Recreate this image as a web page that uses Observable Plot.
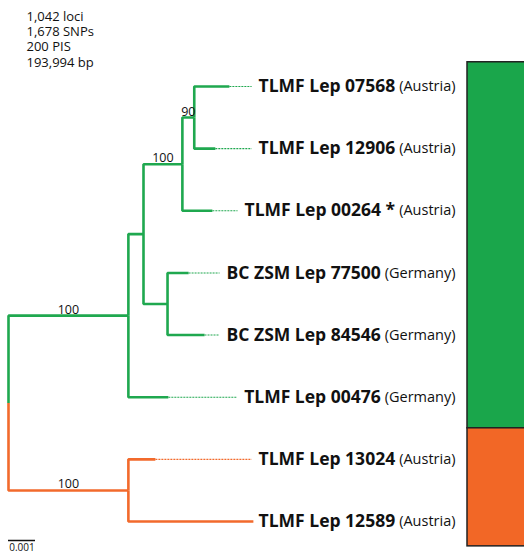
<!DOCTYPE html>
<html><head><meta charset="utf-8">
<script src="https://cdn.jsdelivr.net/npm/d3@7"></script>
<script src="https://cdn.jsdelivr.net/npm/@observablehq/plot@0.6"></script>
<style>body{margin:0;background:#fff} svg{display:block}</style>
</head><body><div id="chart"></div>
<script>
// ---- data ----
const stats = ["1,042 loci", "1,678 SNPs", "200 PIS", "193,994 bp"];
const tipIds = ["t0", "t1", "t2", "t3", "t4", "t5", "t6", "t7"];
const tipNames = ["TLMF Lep 07568", "TLMF Lep 12906", "TLMF Lep 00264 *", "BC ZSM Lep 77500", "BC ZSM Lep 84546", "TLMF Lep 00476", "TLMF Lep 13024", "TLMF Lep 12589"];
const tipCountries = ["Austria", "Austria", "Austria", "Germany", "Germany", "Germany", "Austria", "Austria"];
const edgeParent = ["root", "root", "G", "A", "B", "C", "C", "B", "A", "D", "D", "G", "O", "O"];
const edgeChild  = ["G", "O", "A", "B", "C", "t0", "t1", "t2", "D", "t3", "t4", "t5", "t6", "t7"];
const edgeLength = [0.00444, 0.00444, 0.00056, 0.00144, 0.00044, 0.0013, 0.00078, 0.00111, 0.00089, 0.00078, 0.00137, 0.00148, 0.001, 0.00463];
const supportNodes = ["G", "O", "B", "C"];
const supportValues = [100, 100, 100, 90];
const cladeIds = ["G", "O"];
const scaleBarLength = 0.001;

// ---- styles / layout ----
const cladeColors = ["#1fa84f", "#f26a2c"];
const barColors = ["#1aa64b", "#f26726"];
const W = 524, H = 554;
const FONT = "Open Sans";
const nameSize = 17.5, countrySize = 14.5;
const nameFont = `bold ${nameSize}px '${FONT}'`, countryFont = `${countrySize}px '${FONT}'`;
const labelRightPx = 455, barLeftPx = 467;
const statsLeftPx = 26, statsTopPx = 16, statsStepPx = 15.3;

// ---- layout of tree ----
const children = {}, len = {}, parentOf = {};
edgeParent.forEach((p, i) => { (children[p] ||= []).push(edgeChild[i]); });
edgeChild.forEach((c, i) => { len[c] = edgeLength[i]; parentOf[c] = edgeParent[i]; });
const X = {root: 0}, Y = {};
(function setX(n) { (children[n] || []).forEach(c => { X[c] = X[n] + len[c]; setX(c); }); })("root");
(function setY(n) {
  if (!children[n]) return (Y[n] = tipIds.indexOf(n));
  const ys = children[n].map(setY);
  return (Y[n] = (Math.min(...ys) + Math.max(...ys)) / 2);
})("root");
const cladeOf = n => { while (parentOf[n] !== "root") n = parentOf[n]; return n; };

const xDomain = [0, scaleBarLength], xRange = [8, 35];
const yDomain = [0, tipIds.length - 1], yRange = [86, 521];
const xs = Plot.scale({x: {domain: xDomain, range: xRange}});
const ys = Plot.scale({y: {domain: yDomain, range: yRange}});

const edges = edgeChild.map(c => ({x1: X[parentOf[c]], y1: Y[parentOf[c]], x2: X[c], y2: Y[c], clade: cladeOf(c)}));

const ctx = document.createElement("canvas").getContext("2d");
const tw = (s, f) => { ctx.font = f; return ctx.measureText(s).width; };
const tips = tipIds.map((id, i) => {
  const country = `(${tipCountries[i]})`;
  const cw = tw(country, countryFont), nw = tw(tipNames[i], nameFont);
  const nameEnd = labelRightPx - cw - 4;
  return {id, y: i, name: tipNames[i], country, clade: cladeOf(id), xTip: X[id],
    xCountry: xs.invert(labelRightPx), xName: xs.invert(nameEnd), xDash: xs.invert(nameEnd - nw - 7)};
});
const supports = supportNodes.map((n, i) => ({x: (X[parentOf[n]] + X[n]) / 2, y: Y[n], text: String(supportValues[i])}));

const bars = cladeIds.map((c, k) => {
  const idx = tips.filter(t => t.clade === c).map(t => t.y);
  return {clade: c, min: d3.min(idx), max: d3.max(idx)};
});
bars.forEach((b, k) => {
  b.y1 = k === 0 ? b.min - 0.39 : (bars[k - 1].max + b.min) / 2;
  b.y2 = k === bars.length - 1 ? b.max + 0.4 : (b.max + bars[k + 1].min) / 2;
  b.x1 = xs.invert(barLeftPx); b.x2 = xs.invert(W + 10);
});
const scaleY = ys.invert(540);
const statRows = stats.map((s, i) => ({text: s, x: xs.invert(statsLeftPx), y: ys.invert(statsTopPx + i * statsStepPx)}));

const chart = Plot.plot({
  width: W, height: H,
  margin: 0,
  style: {fontFamily: FONT, background: "#fff", color: "#111"},
  x: {domain: xDomain, range: xRange, axis: null},
  y: {domain: yDomain, range: yRange, axis: null},
  color: {domain: cladeIds, range: cladeColors},
  marks: [
    Plot.rect(bars, {x1: "x1", x2: "x2", y1: "y1", y2: "y2", fill: d => barColors[cladeIds.indexOf(d.clade)], stroke: "#222", strokeWidth: 1.5}),
    Plot.link(tips.filter(d => d.xDash > d.xTip), {x1: "xTip", x2: "xDash", y1: "y", y2: "y", stroke: "clade", strokeWidth: 1.1, strokeDasharray: "2,1"}),
    Plot.link(edges, {x1: "x1", y1: "y1", x2: "x2", y2: "y2", curve: "step-before", stroke: "clade", strokeWidth: 2.6, strokeLinejoin: "miter"}),
    Plot.text(tips, {x: "xName", y: "y", text: "name", textAnchor: "end", fontWeight: "bold", fontSize: nameSize, fill: "#111"}),
    Plot.text(tips, {x: "xCountry", y: "y", text: "country", textAnchor: "end", fontSize: countrySize, fill: "#111"}),
    Plot.text(supports, {x: "x", y: "y", text: "text", lineAnchor: "bottom", dy: -2, fontSize: 12.5, fill: "#111"}),
    Plot.ruleY([scaleY], {x1: 0, x2: scaleBarLength, stroke: "#111", strokeWidth: 1.5}),
    Plot.text([scaleBarLength.toFixed(3)], {x: scaleBarLength / 2, y: scaleY, text: d => d, dy: 7, fontSize: 10, fill: "#111"}),
    Plot.text(statRows, {x: "x", y: "y", text: "text", textAnchor: "start", fontSize: 13, fill: "#111"})
  ]
});
document.getElementById("chart").appendChild(chart);
</script>
</body></html>
